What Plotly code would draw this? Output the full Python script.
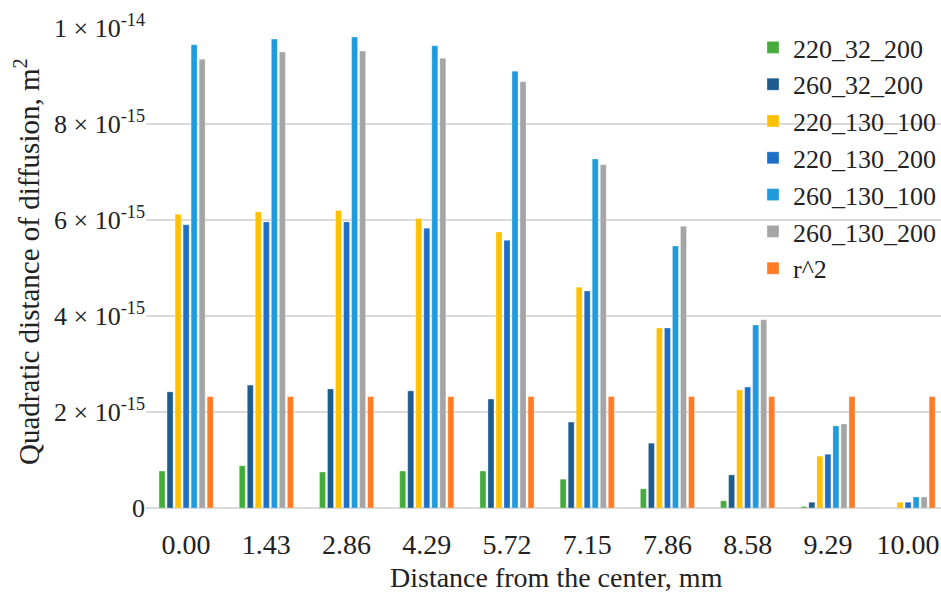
import plotly.graph_objects as go

categories = ["0.00", "1.43", "2.86", "4.29", "5.72", "7.15", "7.86", "8.58", "9.29", "10.00"]
series_names = ["220_32_200", "260_32_200", "220_130_100", "220_130_200", "260_130_100", "260_130_200", "r^2"]
s_220_32_200 = [0.77, 0.88, 0.75, 0.77, 0.77, 0.60, 0.40, 0.15, 0.03, 0.0]
s_260_32_200 = [2.42, 2.56, 2.48, 2.44, 2.27, 1.79, 1.35, 0.69, 0.12, 0.0]
s_220_130_100 = [6.12, 6.17, 6.20, 6.03, 5.75, 4.60, 3.75, 2.46, 1.08, 0.12]
s_220_130_200 = [5.90, 5.96, 5.96, 5.83, 5.58, 4.52, 3.75, 2.52, 1.12, 0.12]
s_260_130_100 = [9.65, 9.77, 9.81, 9.63, 9.10, 7.27, 5.46, 3.81, 1.71, 0.23]
s_260_130_200 = [9.35, 9.50, 9.52, 9.37, 8.88, 7.15, 5.87, 3.92, 1.75, 0.23]
s_r2 = [2.32] * 10
scale = 1e-15
colors = ["#46AB3D", "#1E5C8E", "#FFC000", "#1F6FC8", "#1F9BDB", "#A5A5A5", "#FF7B25"]

tick_vals = [0, 2e-15, 4e-15, 6e-15, 8e-15, 1e-14]
tick_text = ["0", "2 × 10<sup>-15</sup>", "4 × 10<sup>-15</sup>", "6 × 10<sup>-15</sup>",
             "8 × 10<sup>-15</sup>", "1 × 10<sup>-14</sup>"]

FONT = "Liberation Serif"
all_series = [s_220_32_200, s_260_32_200, s_220_130_100, s_220_130_200, s_260_130_100, s_260_130_200, s_r2]

fig = go.Figure()
for name, vals, col in zip(series_names, all_series, colors):
    fig.add_trace(go.Bar(
        x=categories, y=[v * scale for v in vals], name=name, legendgroup=name,
        marker=dict(color=col, line=dict(color="rgba(255,255,255,0.6)", width=0.5)),
    ))

W, H = 941, 594
L, R, T, B = 146, 0, 28, 86
pw = W - L - R
ph = H - T - B
def px_to_paper_x(px):
    return (px - L) / pw
def px_to_paper_y(py):
    return (H - B - py) / ph

fig.update_layout(
    width=W, height=H,
    margin=dict(l=L, r=R, t=T, b=B, autoexpand=False),
    paper_bgcolor="white", plot_bgcolor="white",
    barmode="group", bargap=0.30, bargroupgap=0.25,
    font=dict(family=FONT, size=26, color="#222222"),
    showlegend=True,
    legend=dict(
        xref="paper", yref="paper",
        x=px_to_paper_x(753), y=px_to_paper_y(24), xanchor="left", yanchor="top",
        bgcolor="rgba(0,0,0,0)", font=dict(family=FONT, size=26, color="#222222"),
        tracegroupgap=0, itemwidth=30,
    ),
    xaxis=dict(
        type="category", range=[-0.5, 9.41], showgrid=False, ticks="",
        showline=False, tickfont=dict(size=28), zeroline=False,
        ticklabelstandoff=17,
    ),
    yaxis=dict(
        range=[0, 1e-14], tickvals=tick_vals, ticktext=tick_text,
        showgrid=True, gridcolor="#D9D9D9", gridwidth=1.5, zeroline=True,
        zerolinecolor="#D9D9D9", zerolinewidth=1.5, ticks="", showline=False,
        tickfont=dict(size=26),
    ),
    annotations=[
        dict(text="Distance from the center, mm", xref="paper", yref="paper",
             x=px_to_paper_x(556), y=px_to_paper_y(577), xanchor="center", yanchor="middle",
             showarrow=False, font=dict(size=28)),
        dict(text="Quadratic distance of diffusion, m<sup>2</sup>", xref="paper", yref="paper",
             x=px_to_paper_x(27), y=px_to_paper_y(262), xanchor="center", yanchor="middle",
             textangle=-90, showarrow=False, font=dict(size=29)),
    ],
)

fig.write_html("out.html")
